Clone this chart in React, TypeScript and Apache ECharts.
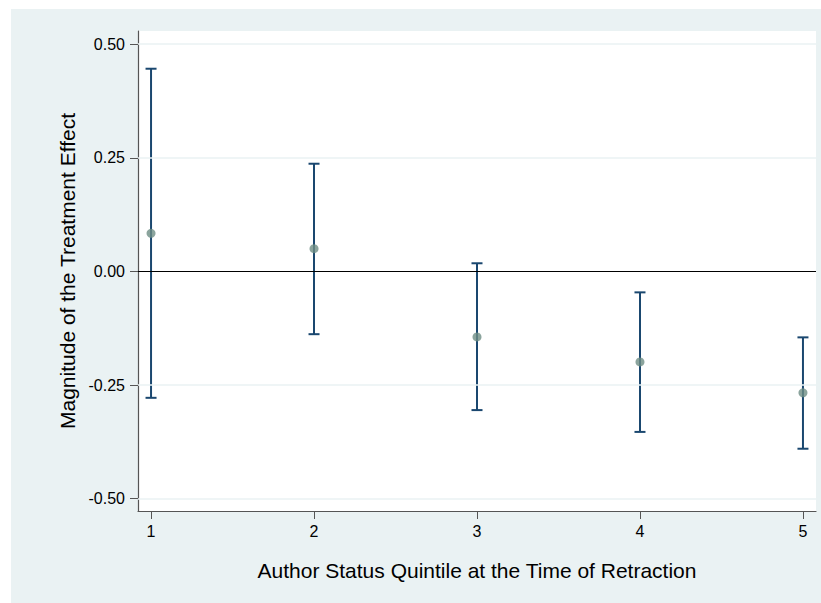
import React, { useEffect, useRef } from "react";
import * as echarts from "echarts";

const quintiles = [1, 2, 3, 4, 5];
const estimates = [0.084, 0.05, -0.144, -0.199, -0.267];
const upperCI = [0.446, 0.237, 0.018, -0.046, -0.145];
const lowerCI = [-0.278, -0.138, -0.305, -0.353, -0.39];
const yTicks = [-0.5, -0.25, 0, 0.25, 0.5];
const xTicks = [1, 2, 3, 4, 5];

const FONT = "'Liberation Sans', Arial, Helvetica, sans-serif";
const NAVY = "#1a476f";
const MARKER = "#6e8d84";
const BG = "#eaf2f3";

export default function App() {
  const ref = useRef<HTMLDivElement>(null);
  useEffect(() => {
    if (!ref.current) return;
    const chart = echarts.init(ref.current, undefined, { renderer: "svg" });
    const barData = quintiles.map((q, i) => [q, lowerCI[i], upperCI[i]]);
    const pointData = quintiles.map((q, i) => [q, estimates[i]]);
    const gridLines = yTicks.map((v) => ({
      yAxis: v,
      lineStyle:
        v === 0
          ? { color: "#000000", width: 1, type: "solid" as const }
          : { color: BG, width: 1.5, type: "solid" as const },
    }));
    chart.setOption({
      animation: false,
      backgroundColor: BG,
      textStyle: { fontFamily: FONT },
      grid: {
        left: 127,
        top: 22,
        right: 5,
        bottom: 92,
        show: true,
        backgroundColor: "#ffffff",
        borderWidth: 0,
      },
      xAxis: {
        type: "value",
        min: 0.92,
        max: 5.08,
        name: "Author Status Quintile at the Time of Retraction",
        nameLocation: "middle",
        nameGap: 49,
        nameTextStyle: { fontSize: 21, color: "#000", fontFamily: FONT },
        axisLine: { show: true, onZero: false, lineStyle: { color: "#555555", width: 1.2 } },
        axisTick: { show: true, length: 8, customValues: xTicks, lineStyle: { color: "#555555", width: 1 } },
        axisLabel: {
          customValues: xTicks,
          margin: 12,
          fontSize: 16,
          color: "#000",
          fontFamily: FONT,
          formatter: (v: number) => String(v),
        },
        splitLine: { show: false },
      },
      yAxis: {
        type: "value",
        min: -0.527,
        max: 0.529,
        name: "Magnitude of the Treatment Effect",
        nameLocation: "middle",
        nameGap: 60,
        nameTextStyle: { fontSize: 21, color: "#000", fontFamily: FONT },
        axisLine: { show: true, onZero: false, lineStyle: { color: "#555555", width: 1.2 } },
        axisTick: { show: true, length: 8, customValues: yTicks, lineStyle: { color: "#555555", width: 1 } },
        axisLabel: {
          customValues: yTicks,
          margin: 13,
          fontSize: 16,
          color: "#000",
          fontFamily: FONT,
          formatter: (v: number) => v.toFixed(2),
        },
        splitLine: { show: false },
      },
      series: [
        {
          type: "scatter",
          data: [],
          z: 1,
          silent: true,
          markLine: {
            silent: true,
            symbol: "none",
            label: { show: false },
            data: gridLines,
          },
        },
        {
          type: "custom",
          z: 2,
          silent: true,
          data: barData,
          encode: { x: 0, y: [1, 2] },
          renderItem: (params: any, api: any) => {
            const x = api.value(0);
            const lo = api.coord([x, api.value(1)]);
            const hi = api.coord([x, api.value(2)]);
            const hw = 5.5;
            const style = { stroke: NAVY, lineWidth: 2 };
            return {
              type: "group",
              children: [
                { type: "line", shape: { x1: lo[0], y1: lo[1], x2: hi[0], y2: hi[1] }, style },
                { type: "line", shape: { x1: lo[0] - hw, y1: lo[1], x2: lo[0] + hw, y2: lo[1] }, style },
                { type: "line", shape: { x1: hi[0] - hw, y1: hi[1], x2: hi[0] + hw, y2: hi[1] }, style },
              ],
            };
          },
        },
        {
          type: "scatter",
          z: 3,
          data: pointData,
          symbol: "circle",
          symbolSize: 9,
          itemStyle: { color: MARKER },
        },
      ],
    });
    return () => chart.dispose();
  }, []);
  return (
    <div
      ref={ref}
      style={{ position: "fixed", left: 11, top: 9, width: 810, height: 594 }}
    />
  );
}
